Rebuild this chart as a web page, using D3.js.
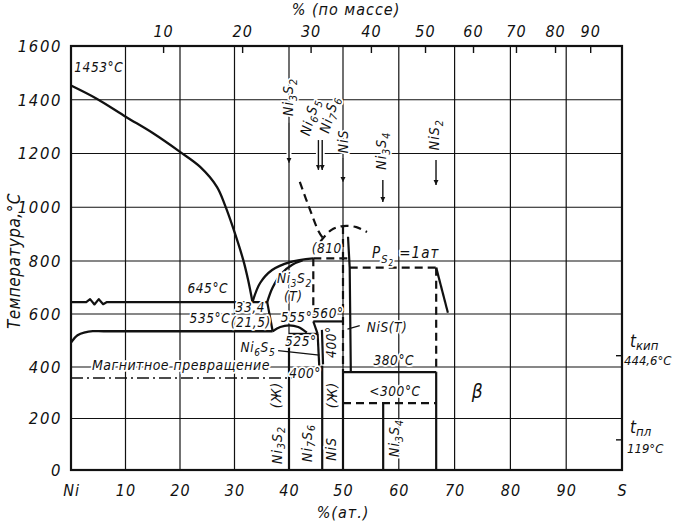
<!DOCTYPE html>
<html>
<head>
<meta charset="utf-8">
<script src="https://cdn.jsdelivr.net/npm/d3@7"></script>
<style>
  body { margin: 0; background: #fff; }
  svg text {
    font-family: "DejaVu Sans Condensed", "Liberation Sans Narrow", "DejaVu Sans", sans-serif;
    font-style: italic;
    fill: #111;
  }
</style>
</head>
<body>
<svg id="chart" width="677" height="525"></svg>
<script>
// Диаграмма состояния Ni – S
// точки: [ат.% S, °C]

// оси
const tempTicks  = [0, 200, 400, 600, 800, 1000, 1200, 1400, 1600];
const atTicks    = [0, 10, 20, 30, 40, 50, 60, 70, 80, 90, 100];
const atLabels   = ["Ni", "10", "20", "30", "40", "50", "60", "70", "80", "90", "S"];
const gridAt     = [10, 20, 30, 40, 50, 60, 70, 80, 90];
const gridT      = [200, 400, 600, 800, 1000, 1200, 1400];
const massPos    = [16.9, 31.4, 44.0, 55.0, 64.7, 73.3, 81.0, 88.0, 94.3];
const massLabels = ["10", "20", "30", "40", "50", "60", "70", "80", "90"];
const rightTemps = [444.6, 119];

// сплошные линии
const liquidusNi    = [[0, 1453], [4.8, 1403], [10.1, 1336], [15, 1276], [20, 1206], [23.7, 1150],
                       [26.8, 1075], [28.3, 1005], [29.7, 926], [31.6, 804], [32.5, 728], [33.3, 645]];
const liquidusNi3S2 = [[33.3, 645], [34.7, 717], [36.9, 766], [40.2, 796], [44.5, 810]];
const solidusNi3S2  = [[36, 645], [37, 700], [38.6, 752], [40.6, 786], [42.5, 802]];
const eutectic645   = [[0, 645], [2.8, 645], [3.5, 656], [4.3, 636], [5.1, 656], [5.9, 637], [6.6, 645], [36, 645]];
const solvusNi3S2   = [[36, 645], [37, 535]];
const line535       = [[0, 492], [1.2, 520], [2.6, 531], [4, 535], [6, 535], [37, 535]];
const dome555       = [[37, 535], [38.4, 551], [40, 557], [41.7, 551], [43.3, 530]];
const ni3s2Line     = [[40, 525], [40, 0]];
const line525       = [[40, 525], [45.3, 525]];
const ni3s2tRight   = [[44.5, 572], [45.3, 525]];
const ni6s5Left     = [[45.3, 525], [45.6, 405]];
const ni6s5Right    = [[46.1, 540], [46.3, 410]];
const line560       = [[44.5, 572], [50, 572]];
const ni7s6Line     = [[46.15, 405], [46.15, 0]];
const nisLow        = [[50, 380], [50, 0]];
const nisTRight     = [[50.9, 890], [51.2, 775], [51.4, 380]];
const line380       = [[50, 380], [66.7, 380]];
const slopePS2      = [[66.7, 775], [68.8, 605]];
const nis2Low       = [[66.7, 380], [66.7, 0]];
const ni3s4Line     = [[57.2, 260], [57.2, 0]];

// штриховые линии
const nisHigh       = [[50, 930], [50, 380]];
const line810       = [[44.5, 810], [50.9, 810]];
const ni3s2tDash    = [[44.5, 810], [44.5, 572]];
const ps2Line       = [[51.2, 775], [66.7, 775]];
const nis2High      = [[66.7, 775], [66.7, 380]];
const line260       = [[50, 260], [66.7, 260]];
const gasCurve      = [[42, 1094], [43.9, 990], [45.5, 910], [46.6, 876]];
const domeTop       = [[45.8, 872], [47.8, 915], [50, 930], [52.4, 926], [54.3, 908]];

// магнитное превращение (штрих-пунктир)
const magnetic      = [[0, 357], [40.5, 357]];

// выноски
const leaderNi6S5   = [[38, 462], [45.6, 445]];
const leaderNiST    = [[50.8, 543], [53, 556]];

// соединения сверху (стрелки)
const topNames     = ["Ni_3S_2", "Ni_6S_5", "Ni_7S_6", "NiS", "Ni_3S_4", "NiS_2"];
const topComp      = [40, 45.45, 46.15, 50, 57.14, 66.67];
const topLabelX    = [40, 44.0, 47.6, 50.1, 57.0, 66.5];
const topLabelT    = [1410, 1335, 1345, 1245, 1210, 1270];
const topAngle     = [-90, -74, -74, -90, -90, -90];
const topArrowFrom = [1316, 1250, 1250, 1183, 1101, 1176];
const topArrowTo   = [1165, 1139, 1139, 1094, 1020, 1083];

// вертикальные подписи внизу
const bottomNames = ["(Ж)", "Ni_3S_2", "Ni_7S_6", "(Ж)", "NiS", "Ni_3S_4"];
const bottomX     = [37.7, 37.9, 43.4, 48.1, 48.0, 59.3];
const bottomT     = [291, 97, 105, 291, 82, 124];

// горизонтальные подписи
const noteText = ["1453°C", "645°C", "535°C", "33,4", "(21,5)", "Ni_3S_2", "(T)", "555°", "560°",
                  "Ni_6S_5", "525°", "400°", "NiS(T)", "380°C", "<300°C", "β", "(810"];
const noteX    = [5.1, 25.1, 25.5, 32.9, 33.0, 41.0, 40.8, 41.4, 47.2, 34.3, 42.2, 43.0, 57.9, 59.1, 59.3, 74.1, 47.0];
const noteT    = [1503, 680, 565, 607, 551, 716, 648, 570, 586, 455, 478, 357, 532, 407, 287, 280, 830];

const svg = d3.select("#chart");
const W = 677, H = 525;

svg.append("rect").attr("width", W).attr("height", H).attr("fill", "#fff");

const x = d3.scaleLinear().domain([0, 40, 50, 100]).range([71, 289, 343, 622]);
const y = d3.scaleLinear().domain([0, 400, 800, 1600]).range([470, 367, 261, 46]);

const ink = "#111";

// сетка
svg.append("g")
  .selectAll("line")
  .data(gridAt)
  .join("line")
  .attr("x1", d => x(d)).attr("x2", d => x(d))
  .attr("y1", y(0)).attr("y2", y(1600))
  .attr("stroke", ink).attr("stroke-width", 1.2);

svg.append("g")
  .selectAll("line")
  .data(gridT)
  .join("line")
  .attr("x1", x(0)).attr("x2", x(100))
  .attr("y1", d => y(d)).attr("y2", d => y(d))
  .attr("stroke", ink).attr("stroke-width", 1.2);

// линии диаграммы
const lineGen = d3.line().x(d => x(d[0])).y(d => y(d[1]));
const smoothGen = d3.line().x(d => x(d[0])).y(d => y(d[1])).curve(d3.curveCatmullRom.alpha(0.5));

const plotG = svg.append("g");

function drawLines(list, gen, dash, width) {
  plotG.selectAll(null)
    .data(list)
    .join("path")
    .attr("d", gen)
    .attr("fill", "none")
    .attr("stroke", ink)
    .attr("stroke-width", width)
    .attr("stroke-dasharray", dash)
    .attr("stroke-linejoin", "round");
}

drawLines([liquidusNi, liquidusNi3S2, solidusNi3S2, line535, dome555], smoothGen, null, 2.3);
drawLines([eutectic645, solvusNi3S2, ni3s2Line, line525, ni3s2tRight, ni6s5Left, ni6s5Right, line560,
           ni7s6Line, nisLow, nisTRight, line380, slopePS2, nis2Low, ni3s4Line], lineGen, null, 2.2);
drawLines([nisHigh, line810, ni3s2tDash, ps2Line, nis2High, line260], lineGen, "8,5", 2.2);
drawLines([gasCurve, domeTop], smoothGen, "8,5", 2.2);
drawLines([magnetic], lineGen, "12,4,2,4", 1.6);
drawLines([leaderNi6S5, leaderNiST], lineGen, null, 1.2);

// стрелки соединений
const defs = svg.append("defs");
defs.append("marker")
  .attr("id", "arrow")
  .attr("viewBox", "0 0 10 10")
  .attr("refX", 10).attr("refY", 5)
  .attr("markerWidth", 5).attr("markerHeight", 9)
  .attr("orient", "auto")
  .attr("markerUnits", "userSpaceOnUse")
  .append("path")
  .attr("d", "M0,0 L10,5 L0,10 Z")
  .attr("fill", ink);

// текст с индексами: "_x" -> подстрочный символ
function richText(sel, str) {
  let low = false;
  str.split(/(_.)/).filter(s => s).forEach(part => {
    const isSub = part[0] === "_";
    const ts = sel.append("tspan").text(isSub ? part.slice(1) : part);
    if (isSub) {
      ts.attr("font-size", "0.75em");
      if (!low) ts.attr("dy", 3.5);
      low = true;
    } else if (low) {
      ts.attr("dy", -3.5);
      low = false;
    }
  });
}

function halo(sel) {
  sel.attr("stroke", "#fff")
    .attr("stroke-width", 3.5)
    .attr("stroke-linejoin", "round")
    .attr("paint-order", "stroke");
}

const labelG = svg.append("g");

topNames.forEach((name, i) => {
  labelG.append("line")
    .attr("x1", x(topComp[i])).attr("x2", x(topComp[i]))
    .attr("y1", y(topArrowFrom[i])).attr("y2", y(topArrowTo[i]))
    .attr("stroke", "#fff").attr("stroke-width", 5);
  labelG.append("line")
    .attr("x1", x(topComp[i])).attr("x2", x(topComp[i]))
    .attr("y1", y(topArrowFrom[i])).attr("y2", y(topArrowTo[i]))
    .attr("stroke", ink).attr("stroke-width", 1.4)
    .attr("marker-end", "url(#arrow)");
  const t = labelG.append("text")
    .attr("transform", `translate(${x(topLabelX[i])},${y(topLabelT[i])}) rotate(${topAngle[i]})`)
    .attr("text-anchor", "middle")
    .attr("dy", "0.3em")
    .style("font-size", "14px")
    .style("letter-spacing", "1px");
  halo(t);
  richText(t, name);
});

bottomNames.forEach((name, i) => {
  const t = labelG.append("text")
    .attr("transform", `translate(${x(bottomX[i])},${y(bottomT[i])}) rotate(-90)`)
    .attr("text-anchor", "middle")
    .attr("dy", "0.3em")
    .style("font-size", "14px")
    .style("letter-spacing", "1px");
  halo(t);
  richText(t, name);
});

noteText.forEach((s, i) => {
  const t = labelG.append("text")
    .attr("x", x(noteX[i]))
    .attr("y", y(noteT[i]))
    .attr("text-anchor", "middle")
    .style("font-size", s === "β" ? "19px" : "13.5px")
    .style("letter-spacing", "0.6px");
  halo(t);
  richText(t, s);
});

// вертикальная подпись 400° у Ni6S5
const t400 = labelG.append("text")
  .attr("transform", `translate(${x(47.8)},${y(494)}) rotate(-90)`)
  .attr("text-anchor", "middle")
  .attr("dy", "0.35em")
  .style("font-size", "13.5px")
  .style("letter-spacing", "0.6px")
  .text("400°");
halo(t400);

// магнитное превращение
const tMag = labelG.append("text")
  .attr("x", x(3.85)).attr("y", y(388))
  .style("font-size", "14px")
  .style("letter-spacing", "0.5px")
  .text("Магнитное превращение");
halo(tMag);

// P_S2 = 1 ат
const tPs = labelG.append("text")
  .attr("x", x(55.2)).attr("y", y(811))
  .style("font-size", "15px")
  .style("letter-spacing", "1px");
halo(tPs);
tPs.append("tspan").text("P");
tPs.append("tspan").attr("dy", 5).style("font-size", "11px").text("S");
tPs.append("tspan").attr("dy", 3).style("font-size", "8px").text("2");
tPs.append("tspan").attr("dy", -8).text(" =1ат");

// рамка
svg.append("rect")
  .attr("x", x(0)).attr("y", y(1600))
  .attr("width", x(100) - x(0)).attr("height", y(0) - y(1600))
  .attr("fill", "none").attr("stroke", ink).attr("stroke-width", 2.2);

// оси
const axisFont = g => g.selectAll("text")
  .style("font-size", "16px")
  .style("letter-spacing", "1px")
  .attr("fill", ink);

svg.append("g")
  .attr("transform", `translate(${x(0)},0)`)
  .call(d3.axisLeft(y).tickValues(tempTicks).tickFormat(d3.format("d")).tickSize(0).tickPadding(9))
  .call(g => g.select(".domain").remove())
  .call(axisFont)
  .call(g => g.selectAll("text").style("font-size", "16.5px").style("letter-spacing", "1.6px"));

svg.append("g")
  .attr("transform", `translate(0,${y(0)})`)
  .call(d3.axisBottom(x).tickValues(atTicks).tickFormat((d, i) => atLabels[i]).tickSize(0).tickPadding(15))
  .call(g => g.select(".domain").remove())
  .call(axisFont);

svg.append("g")
  .attr("transform", `translate(0,${y(1600)})`)
  .call(d3.axisTop(x).tickValues(massPos).tickFormat((d, i) => massLabels[i]).tickSize(-7).tickPadding(9))
  .call(g => g.select(".domain").remove())
  .call(g => g.selectAll("line").attr("stroke", ink).attr("stroke-width", 1.4))
  .call(axisFont);

svg.append("g")
  .attr("transform", `translate(${x(100)},0)`)
  .call(d3.axisLeft(y).tickValues(rightTemps).tickSize(6).tickFormat(""))
  .call(g => g.select(".domain").remove())
  .call(g => g.selectAll("line").attr("stroke", ink).attr("stroke-width", 1.4));

// подписи осей
svg.append("text")
  .attr("transform", `translate(20,${y(800)}) rotate(-90)`)
  .attr("text-anchor", "middle")
  .style("font-size", "17px")
  .style("letter-spacing", "0.5px")
  .text("Температура,°С");

svg.append("text")
  .attr("x", 346).attr("y", 15)
  .attr("text-anchor", "middle")
  .style("font-size", "16px")
  .style("letter-spacing", "1px")
  .text("% (по массе)");

svg.append("text")
  .attr("x", x(50)).attr("y", 518)
  .attr("text-anchor", "middle")
  .style("font-size", "16px")
  .style("letter-spacing", "1px")
  .text("%(ат.)");

// температуры серы справа
const sideG = svg.append("g").style("font-size", "13px");
const tk = sideG.append("text").attr("x", x(100) + 8).attr("y", y(444.6) - 8);
tk.append("tspan").style("font-size", "17px").text("t");
tk.append("tspan").attr("dy", 3).text("кип");
sideG.append("text").attr("x", x(100) + 2).attr("y", y(444.6) + 10).text("444,6°C");
const tp = sideG.append("text").attr("x", x(100) + 8).attr("y", y(119) - 6);
tp.append("tspan").style("font-size", "17px").text("t");
tp.append("tspan").attr("dy", 3).text("пл");
sideG.append("text").attr("x", x(100) + 5).attr("y", y(119) + 14).text("119°C");
</script>
</body>
</html>
